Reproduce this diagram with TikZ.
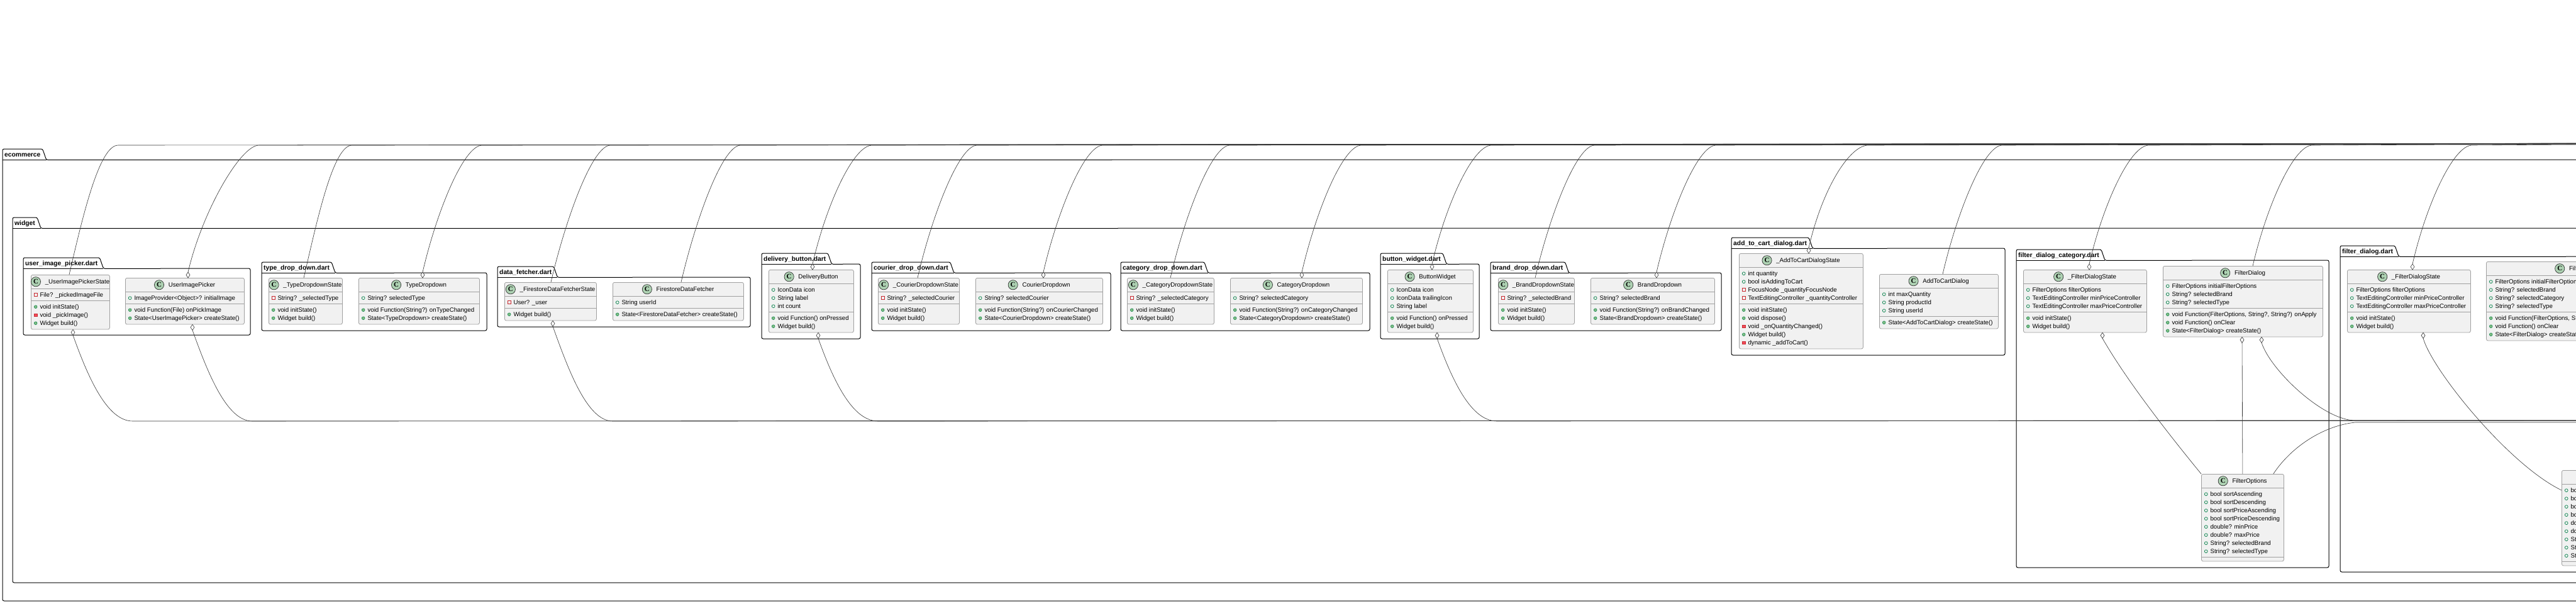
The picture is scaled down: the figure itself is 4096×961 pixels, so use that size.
\documentclass[tikz,border=0pt]{standalone}
\usepackage{fontspec}
\setmainfont{Liberation Sans}
\newfontfamily\iconfont{Liberation Serif}
\usetikzlibrary{positioning,calc}

\definecolor{classfill}{HTML}{F1F1F1}
\definecolor{classline}{HTML}{A0A0A0}
\definecolor{iconfill}{HTML}{ADD1B2}
\definecolor{publine}{HTML}{038048}
\definecolor{pubfill}{HTML}{84BE84}
\definecolor{privline}{HTML}{C82930}
\definecolor{privfill}{HTML}{F24D5C}
\definecolor{linkcol}{HTML}{333333}

\newcommand\membfont{\fontsize{9.7}{12}\selectfont}
\newcommand\pkgfont{\fontsize{10.3}{12}\selectfont\bfseries}

\tikzset{
  classbox/.style={draw=classline, fill=classfill, line width=0.8pt, rounded corners=2.5pt, inner sep=0pt, anchor=north west},
  sepline/.style={draw=classline, line width=0.8pt},
  cname/.style={font=\membfont, inner sep=0pt, text height=7.8pt, text depth=1pt},
  cletter/.style={font=\iconfont\fontsize{11}{11}\selectfont\bfseries, inner sep=0pt},
  cicon/.style={draw=linkcol, fill=iconfill, line width=0.7pt},
  memb/.style={font=\membfont, inner sep=0pt, anchor=base west},
  pkgtitle/.style={font=\pkgfont, inner xsep=3pt, inner ysep=0pt, minimum height=17pt, text height=8.5pt, text depth=1.5pt, anchor=north west},
  pkgline/.style={draw=black, line width=1pt, rounded corners=2.5pt},
  link/.style={draw=linkcol, line width=0.6pt},
  aggr/.style={draw=linkcol, line width=0.6pt, fill=white},
  pubfield/.style={draw=publine, line width=0.7pt},
  pubmeth/.style={draw=publine, fill=pubfill, line width=0.5pt},
  privfield/.style={draw=privline, line width=0.7pt},
  privmeth/.style={draw=privline, fill=privfill, line width=0.5pt}
}

% visibility marks
\newcommand\vispf[1]{\draw[pubfield] (#1) circle (2.4);}
\newcommand\vispm[1]{\draw[pubmeth] (#1) circle (2.4);}
\newcommand\visvf[1]{\draw[privfield] ($(#1)+(-2.4,-2.4)$) rectangle ($(#1)+(2.4,2.4)$);}
\newcommand\visvm[1]{\draw[privmeth] ($(#1)+(-2.4,-2.4)$) rectangle ($(#1)+(2.4,2.4)$);}

% package: id, left, tab top, right, bottom, title
\newcommand\pkgbox[6]{%
  \node[pkgtitle] (#1) at (#2,#3) {#6};
  \draw[pkgline] (#2,#5) -- (#1.north west) -- (#1.north east) -- ([xshift=6pt]#1.south east) -- (#4,#3+17) -- (#4,#5) -- cycle;
  \draw[pkgline] (#1.south west) -- ([xshift=6pt]#1.south east);
}

% class: id, x, y, width, name, fields, methods
\newcommand\umlclass[7]{%
  \gdef\cntA{0}\gdef\cntM{0}%
  \foreach \mk/\mt [count=\ii] in {#6}{\xdef\cntA{\ii}}%
  \if\relax\detokenize{#7}\relax\else\foreach \mk/\mt [count=\ii] in {#7}{\xdef\cntM{\ii}}\fi
  \pgfmathsetmacro\hh{34.5+13*(\cntA+\cntM)}%
  \node[classbox, minimum width=#4pt, minimum height=\hh pt] (#1) at (#2,#3) {};
  \node[cname] (#1-n) at ($(#1.north)+(11.1,11.25)$) {#5};
  \draw[cicon] ($(#1-n.west)+(-14.6,0)$) circle (7.6);
  \node[cletter] (#1-c) at ($(#1-n.west)+(-14.6,0)$) {C};
  \draw[sepline] ($(#1.north west)+(0,22.5)$) -- ($(#1.north east)+(0,22.5)$);
  \pgfmathsetmacro\sy{28.5+13*\cntA}%
  \draw[sepline] ($(#1.north west)+(0,\sy)$) -- ($(#1.north east)+(0,\sy)$);
  \foreach \mk/\mt [count=\ii] in {#6}{%
    \pgfmathsetmacro\ry{32.2+13*(\ii-1)}%
    \coordinate (ic) at ($(#1.north west)+(7.7,\ry)$);
    \csname vis\mk\endcsname{ic}%
    \node[memb] (#1-a\ii) at ($(#1.north west)+(14.3,\ry+3.4)$) {\mt};}%
  \if\relax\detokenize{#7}\relax\else
  \foreach \mk/\mt [count=\ii] in {#7}{%
    \pgfmathsetmacro\ry{\sy+9.7+13*(\ii-1)}%
    \coordinate (ic) at ($(#1.north west)+(7.7,\ry)$);
    \csname vis\mk\endcsname{ic}%
    \node[memb] (#1-m\ii) at ($(#1.north west)+(14.3,\ry+3.4)$) {\mt};}\fi
}

% aggregation ends and bundled links
\newcommand\aggtop[2]{\draw[aggr] ([xshift=#2pt]#1.north west) -- ++(-3,-4.5) -- ++(3,-4.5) -- ++(3,4.5) -- cycle;}
\newcommand\aggbot[2]{\draw[aggr] ([xshift=#2pt]#1.south west) -- ++(-3,4.5) -- ++(3,4.5) -- ++(3,-4.5) -- cycle;}
\newcommand\toplink[4]{\draw[link] ([xshift=#2pt,yshift=#3pt]#1.north west) .. controls +(22,-95) and +(-30,0) .. (#4,231) -- (busT);}
\newcommand\botlink[3]{\draw[link] ([xshift=#2pt,yshift=-9pt]#1.south west) .. controls +(25,70) and +(-40,0) .. (#3,670) -- (busB);}

\begin{document}
\begin{tikzpicture}[x=1pt,y=-1pt]
\useasboundingbox (0,0) rectangle (4096,961);
\clip (0,0) rectangle (4096,961);

% packages
\pkgbox{ecom}{4}{237}{4500}{956}{ecommerce}
\pkgbox{wid}{20}{346}{4500}{927}{widget}
\pkgbox{puip}{37}{410}{398}{533}{user\_image\_picker.dart}
\pkgbox{ptd}{416}{417}{774}{526}{type\_drop\_down.dart}
\pkgbox{pdf}{791}{424}{1193}{520}{data\_fetcher.dart}
\pkgbox{pdb}{1211}{403}{1368}{539}{delivery\_button.dart}
\pkgbox{pcd}{1386}{417}{1766}{526}{courier\_drop\_down.dart}
\pkgbox{pcat}{1782}{417}{2178}{526}{category\_drop\_down.dart}
\pkgbox{pbw}{2195}{403}{2352}{539}{button\_widget.dart}
\pkgbox{pbd}{2370}{417}{2737}{526}{brand\_drop\_down.dart}
\pkgbox{pacd}{2753}{378}{3188}{565}{add\_to\_cart\_dialog.dart}
\pkgbox{pfdc}{3206}{397}{3703}{903}{filter\_dialog\_category.dart}
\pkgbox{pfd}{3721}{391}{4500}{910}{filter\_dialog.dart}

% classes
\umlclass{uips}{49}{437}{125}{\_UserImagePickerState}{vf/File? \_pickedImageFile}{pm/void initState(), vm/void \_pickImage(), pm/Widget build()}
\umlclass{uip}{199}{442}{189}{UserImagePicker}{pf/ImageProvider<Object>? initialImage}{pm/void Function(File) onPickImage, pm/State<UserImagePicker> createState()}
\umlclass{tds}{427}{442}{117}{\_TypeDropdownState}{vf/String? \_selectedType}{pm/void initState(), pm/Widget build()}
\umlclass{td}{570}{442}{192}{TypeDropdown}{pf/String? selectedType}{pm/void Function(String?) onTypeChanged, pm/State<TypeDropdown> createState()}
\umlclass{fdfs}{802}{449}{146}{\_FirestoreDataFetcherState}{vf/User? \_user}{pm/Widget build()}
\umlclass{fdf}{974}{449}{208}{FirestoreDataFetcher}{pf/String userId}{pm/State<FirestoreDataFetcher> createState()}
\umlclass{dbtn}{1222}{429}{135}{DeliveryButton}{pf/IconData icon, pf/String label, pf/int count}{pm/void Function() onPressed, pm/Widget build()}
\umlclass{cds}{1396}{442}{129}{\_CourierDropdownState}{vf/String? \_selectedCourier}{pm/void initState(), pm/Widget build()}
\umlclass{cd}{1551}{442}{202}{CourierDropdown}{pf/String? selectedCourier}{pm/void Function(String?) onCourierChanged, pm/State<CourierDropdown> createState()}
\umlclass{cats}{1792}{442}{138}{\_CategoryDropdownState}{vf/String? \_selectedCategory}{pm/void initState(), pm/Widget build()}
\umlclass{cat}{1956}{442}{210}{CategoryDropdown}{pf/String? selectedCategory}{pm/void Function(String?) onCategoryChanged, pm/State<CategoryDropdown> createState()}
\umlclass{bw}{2206}{429}{136}{ButtonWidget}{pf/IconData icon, pf/IconData trailingIcon, pf/String label}{pm/void Function() onPressed, pm/Widget build()}
\umlclass{bds}{2382}{442}{121}{\_BrandDropdownState}{vf/String? \_selectedBrand}{pm/void initState(), pm/Widget build()}
\umlclass{bd}{2529}{442}{197}{BrandDropdown}{pf/String? selectedBrand}{pm/void Function(String?) onBrandChanged, pm/State<BrandDropdown> createState()}
\umlclass{acds}{2765}{403}{197}{\_AddToCartDialogState}{pf/int quantity, pf/bool isAddingToCart, vf/FocusNode \_quantityFocusNode, vf/TextEditingController \_quantityController}{pm/void initState(), pm/void dispose(), vm/void \_onQuantityChanged(), pm/Widget build(), vm/dynamic \_addToCart()}
\umlclass{acd}{2988}{436}{189}{AddToCartDialog}{pf/int maxQuantity, pf/String productId, pf/String userId}{pm/State<AddToCartDialog> createState()}
\umlclass{fds}{3217}{429}{196}{\_FilterDialogState}{pf/FilterOptions filterOptions, pf/TextEditingController minPriceController, pf/TextEditingController maxPriceController}{pm/void initState(), pm/Widget build()}
\umlclass{fd}{3439}{423}{254}{FilterDialog}{pf/FilterOptions initialFilterOptions, pf/String? selectedBrand, pf/String? selectedType}{pm/{void Function(FilterOptions, String?, String?) onApply}, pm/void Function() onClear, pm/State<FilterDialog> createState()}
\umlclass{fopt}{3500}{754}{131}{FilterOptions}{pf/bool sortAscending, pf/bool sortDescending, pf/bool sortPriceAscending, pf/bool sortPriceDescending, pf/double? minPrice, pf/double? maxPrice, pf/String? selectedBrand, pf/String? selectedType}{}
\umlclass{fds2}{3732}{429}{196}{\_FilterDialogState}{pf/FilterOptions filterOptions, pf/TextEditingController minPriceController, pf/TextEditingController maxPriceController}{pm/void initState(), pm/Widget build()}
\umlclass{fd2}{3953}{416}{290}{FilterDialog}{pf/FilterOptions initialFilterOptions, pf/String? selectedBrand, pf/String? selectedCategory, pf/String? selectedType}{pm/{void Function(FilterOptions, String?, String?, String?) onApply}, pm/void Function() onClear, pm/State<FilterDialog> createState()}
\umlclass{fopt2}{4073}{748}{150}{FilterOptions}{pf/bool sortAscending, pf/bool sortDescending, pf/bool sortPriceAscending, pf/bool sortPriceDescending, pf/double? minPrice, pf/double? maxPrice, pf/String? selectedBrand, pf/String? selectedCategory, pf/String? selectedType}{}

% links leaving the picture
\coordinate (busT) at (4400,228);
\coordinate (busB) at (4400,669);
\coordinate (busB2) at (4400,672);

\toplink{uips}{61}{0}{188}
\toplink{uip}{100}{9}{412}
\toplink{tds}{56}{0}{560}
\toplink{td}{102}{9}{767}
\toplink{fdfs}{74}{0}{971}
\toplink{fdf}{109}{0}{1178}
\toplink{dbtn}{70}{9}{1387}
\toplink{cds}{63}{0}{1554}
\toplink{cd}{108}{9}{1754}
\toplink{cats}{69}{0}{1956}
\toplink{cat}{114}{9}{2165}
\toplink{bw}{71}{9}{2372}
\toplink{bds}{59}{0}{2536}
\toplink{bd}{105}{9}{2729}
\toplink{acds}{111}{9}{2971}
\toplink{acd}{101}{0}{3184}
\toplink{fds}{105}{9}{3417}
\toplink{fd}{143}{0}{3677}
\toplink{fds2}{104}{9}{3931}

\botlink{uips}{67}{211}
\botlink{uip}{107}{401}
\botlink{fdfs}{77}{974}
\botlink{dbtn}{79}{1396}
\botlink{bw}{79}{2380}

% filter options links
\draw[link] ([xshift=126pt,yshift=-9pt]fds.south west) .. controls +(40,70) and +(-45,-55) .. (fopt.north west);
\draw[link] ([xshift=126pt,yshift=-9pt]fd.south west) -- (fopt.north);
\draw[link] ([xshift=157pt,yshift=-9pt]fd.south west) .. controls +(15,45) and +(-50,0) .. (3745,669) -- (busB);
\draw[link] (busB2) -- (3745,672) .. controls (3690,678) and (3640,715) .. ([xshift=-17pt]fopt.north east);
\draw[link] ([xshift=121pt,yshift=-9pt]fds2.south west) .. controls +(15,52) and +(-83,-40) .. ([yshift=-32pt]fopt2.north west);

\aggtop{uip}{100} \aggtop{td}{102} \aggtop{dbtn}{70} \aggtop{cd}{108}
\aggtop{cat}{114} \aggtop{bw}{71} \aggtop{bd}{105} \aggtop{acds}{111}
\aggtop{fds}{105} \aggtop{fds2}{104}
\aggbot{uips}{67} \aggbot{uip}{107} \aggbot{fdfs}{77} \aggbot{dbtn}{79}
\aggbot{bw}{79} \aggbot{fds}{126} \aggbot{fd}{126} \aggbot{fd}{157}
\aggbot{fds2}{121}
\end{tikzpicture}
\end{document}
